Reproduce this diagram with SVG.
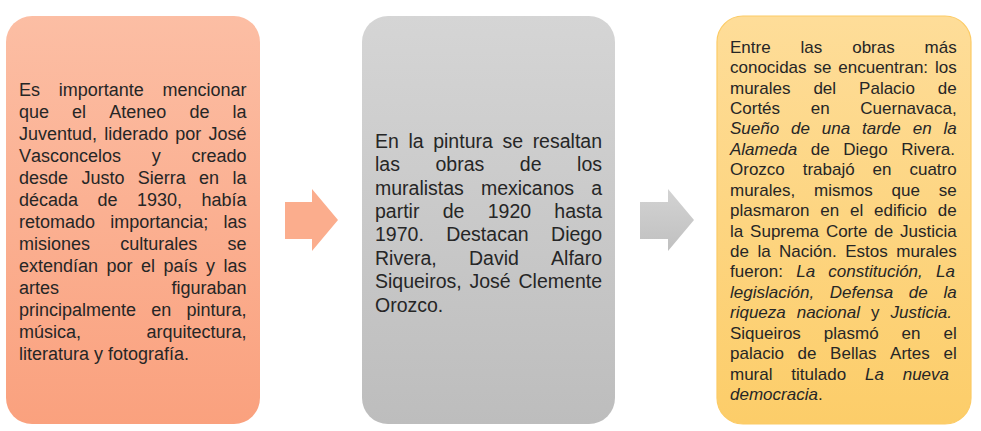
<svg xmlns="http://www.w3.org/2000/svg" width="981" height="431" viewBox="0 0 981 431">
<defs>
<linearGradient id="g1" x1="0" y1="0" x2="0" y2="1"><stop offset="0" stop-color="#fcbea4"/><stop offset="1" stop-color="#faa17e"/></linearGradient>
<linearGradient id="g2" x1="0" y1="0" x2="0" y2="1"><stop offset="0" stop-color="#d5d5d5"/><stop offset="1" stop-color="#bdbdbd"/></linearGradient>
<linearGradient id="g3" x1="0" y1="0" x2="0" y2="1"><stop offset="0" stop-color="#fedd99"/><stop offset="1" stop-color="#fccd69"/></linearGradient>
<linearGradient id="ga2" x1="0" y1="0" x2="0" y2="1"><stop offset="0" stop-color="#d3d3d3"/><stop offset="1" stop-color="#c0c0c0"/></linearGradient>
<style>
text{font-family:"Liberation Sans",Arial,sans-serif;fill:#262626;font-kerning:none;font-variant-ligatures:none}
.t1{font-size:18px}
.t2{font-size:19.5px}
.t3{font-size:17px}
.e{text-anchor:end}
.i{font-style:italic}
</style>
</defs>
<g id="connectors">
<polygon id="arrow1" points="285,202 312,202 312,189 338,220 312,251 312,239 285,239" fill="#fbad8d"/>
<polygon id="arrow2" points="640,202 668,202 668,189 694,220 668,251 668,239 640,239" fill="url(#ga2)"/>
</g>
<g id="node1">
<rect x="6" y="16" width="254" height="408" rx="26" fill="url(#g1)"/>
<g class="t1">
<text y="96"><tspan x="19">Es</tspan><tspan x="58.7">importante</tspan></text><text class="e" x="246.5" y="96">mencionar</text>
<text y="118"><tspan x="19">que</tspan><tspan x="72.1">el</tspan><tspan x="109.2">Ateneo</tspan><tspan x="189.4">de</tspan></text><text class="e" x="246.5" y="118">la</text>
<text y="140"><tspan x="19">Juventud,</tspan><tspan x="104.2">liderado</tspan><tspan x="175.3">por</tspan></text><text class="e" x="246.5" y="140">José</text>
<text y="162"><tspan x="19">Vasconcelos</tspan><tspan x="151.8">y</tspan></text><text class="e" x="246.5" y="162">creado</text>
<text y="184"><tspan x="19">desde</tspan><tspan x="81.4">Justo</tspan><tspan x="137.8">Sierra</tspan><tspan x="199.1">en</tspan></text><text class="e" x="246.5" y="184">la</text>
<text y="206"><tspan x="19">década</tspan><tspan x="97.5">de</tspan><tspan x="137">1930,</tspan></text><text class="e" x="246.5" y="206">había</text>
<text y="228"><tspan x="19">retomado</tspan><tspan x="110.2">importancia;</tspan></text><text class="e" x="246.5" y="228">las</text>
<text y="250"><tspan x="19">misiones</tspan><tspan x="120.2">culturales</tspan></text><text class="e" x="246.5" y="250">se</text>
<text y="272"><tspan x="19">extendían</tspan><tspan x="106.5">por</tspan><tspan x="141">el</tspan><tspan x="163.5">país</tspan><tspan x="206">y</tspan></text><text class="e" x="246.5" y="272">las</text>
<text y="294"><tspan x="19">artes</tspan></text><text class="e" x="246.5" y="294">figuraban</text>
<text y="316"><tspan x="19">principalmente</tspan><tspan x="151.2">en</tspan></text><text class="e" x="246.5" y="316">pintura,</text>
<text y="338"><tspan x="19">música,</tspan></text><text class="e" x="246.5" y="338">arquitectura,</text>
<text x="19" y="360">literatura y fotografía.</text>
</g>
</g>
<g id="node2">
<rect x="362" y="16" width="253" height="408" rx="26" fill="url(#g2)"/>
<g class="t2">
<text y="147.7"><tspan x="375">En</tspan><tspan x="408.4">la</tspan><tspan x="433.2">pintura</tspan><tspan x="502.4">se</tspan></text><text class="e" x="602" y="147.7">resaltan</text>
<text y="171.1"><tspan x="375">las</tspan><tspan x="435.5">obras</tspan><tspan x="519.8">de</tspan></text><text class="e" x="602" y="171.1">los</text>
<text y="194.5"><tspan x="375">muralistas</tspan><tspan x="480.9">mexicanos</tspan></text><text class="e" x="602" y="194.5">a</text>
<text y="217.9"><tspan x="375">partir</tspan><tspan x="442.7">de</tspan><tspan x="487.7">1920</tspan></text><text class="e" x="602" y="217.9">hasta</text>
<text y="241.3"><tspan x="375">1970.</tspan><tspan x="446.2">Destacan</tspan></text><text class="e" x="602" y="241.3">Diego</text>
<text y="264.7"><tspan x="375">Rivera,</tspan><tspan x="469">David</tspan></text><text class="e" x="602" y="264.7">Alfaro</text>
<text y="288.1"><tspan x="375">Siqueiros,</tspan><tspan x="469.5">José</tspan></text><text class="e" x="602" y="288.1">Clemente</text>
<text x="375" y="311.5">Orozco.</text>
</g>
</g>
<g id="node3">
<rect x="717" y="16" width="254" height="408" rx="26" fill="url(#g3)" stroke="#fccb66" stroke-width="1.2"/>
<g class="t3">
<text y="52.7"><tspan x="730">Entre</tspan><tspan x="800.5">las</tspan><tspan x="852.2">obras</tspan></text><text class="e" x="956.7" y="52.7">más</text>
<text y="73.1"><tspan x="730">conocidas</tspan><tspan x="813.4">se</tspan><tspan x="838.3">encuentran:</tspan></text><text class="e" x="956.7" y="73.1">los</text>
<text y="93.6"><tspan x="730">murales</tspan><tspan x="813.4">del</tspan><tspan x="859.1">Palacio</tspan></text><text class="e" x="956.7" y="93.6">de</text>
<text y="114"><tspan x="730">Cortés</tspan><tspan x="810.8">en</tspan></text><text class="e" x="956.7" y="114">Cuernavaca,</text>
<text class="i" y="134.4"><tspan x="730">Sueño</tspan><tspan x="791">de</tspan><tspan x="821.8">una</tspan><tspan x="862">tarde</tspan><tspan x="912.7">en</tspan></text><text class="e i" x="956.7" y="134.4">la</text>
<text y="154.9"><tspan class="i" x="730">Alameda</tspan><tspan x="810.7">de</tspan><tspan x="843.2">Diego</tspan></text><text class="e" x="955" y="154.9">Rivera.</text>
<text y="175.3"><tspan x="730">Orozco</tspan><tspan x="802.7">trabajó</tspan><tspan x="872.6">en</tspan></text><text class="e" x="956.7" y="175.3">cuatro</text>
<text y="195.7"><tspan x="730">murales,</tspan><tspan x="814.1">mismos</tspan><tspan x="891.5">que</tspan></text><text class="e" x="956.7" y="195.7">se</text>
<text y="216.1"><tspan x="730">plasmaron</tspan><tspan x="820.2">en</tspan><tspan x="850">el</tspan><tspan x="874">edificio</tspan></text><text class="e" x="956.7" y="216.1">de</text>
<text y="236.6"><tspan x="730">la</tspan><tspan x="750.1">Suprema</tspan><tspan x="825.9">Corte</tspan><tspan x="874.3">de</tspan></text><text class="e" x="956.7" y="236.6">Justicia</text>
<text y="257"><tspan x="730">de</tspan><tspan x="757.4">la</tspan><tspan x="779.1">Nación.</tspan><tspan x="845.2">Estos</tspan></text><text class="e" x="956.7" y="257">murales</text>
<text y="277.4"><tspan x="730">fueron:</tspan><tspan class="i" x="796.2">La</tspan><tspan class="i" x="828.3">constitución,</tspan></text><text class="e i" x="955" y="277.4">La</text>
<text class="i" y="297.9"><tspan x="730">legislación,</tspan><tspan x="829.8">Defensa</tspan><tspan x="908.8">de</tspan></text><text class="e i" x="956.7" y="297.9">la</text>
<text y="318.3"><tspan class="i" x="730">riqueza</tspan><tspan class="i" x="796.7">nacional</tspan><tspan x="871.1">y</tspan></text><text class="e i" x="952" y="318.3">Justicia.</text>
<text y="338.7"><tspan x="730">Siqueiros</tspan><tspan x="823.8">plasmó</tspan><tspan x="901.6">en</tspan></text><text class="e" x="956.7" y="338.7">el</text>
<text y="359.1"><tspan x="730">palacio</tspan><tspan x="797.5">de</tspan><tspan x="830.1">Bellas</tspan><tspan x="890.1">Artes</tspan></text><text class="e" x="956.7" y="359.1">el</text>
<text y="379.6"><tspan x="730">mural</tspan><tspan x="791.3">titulado</tspan><tspan class="i" x="865">La</tspan></text><text class="e i" x="949" y="379.6">nueva</text>
<text x="730" y="400"><tspan class="i">democracia</tspan>.</text>
</g>
</g>
</svg>
